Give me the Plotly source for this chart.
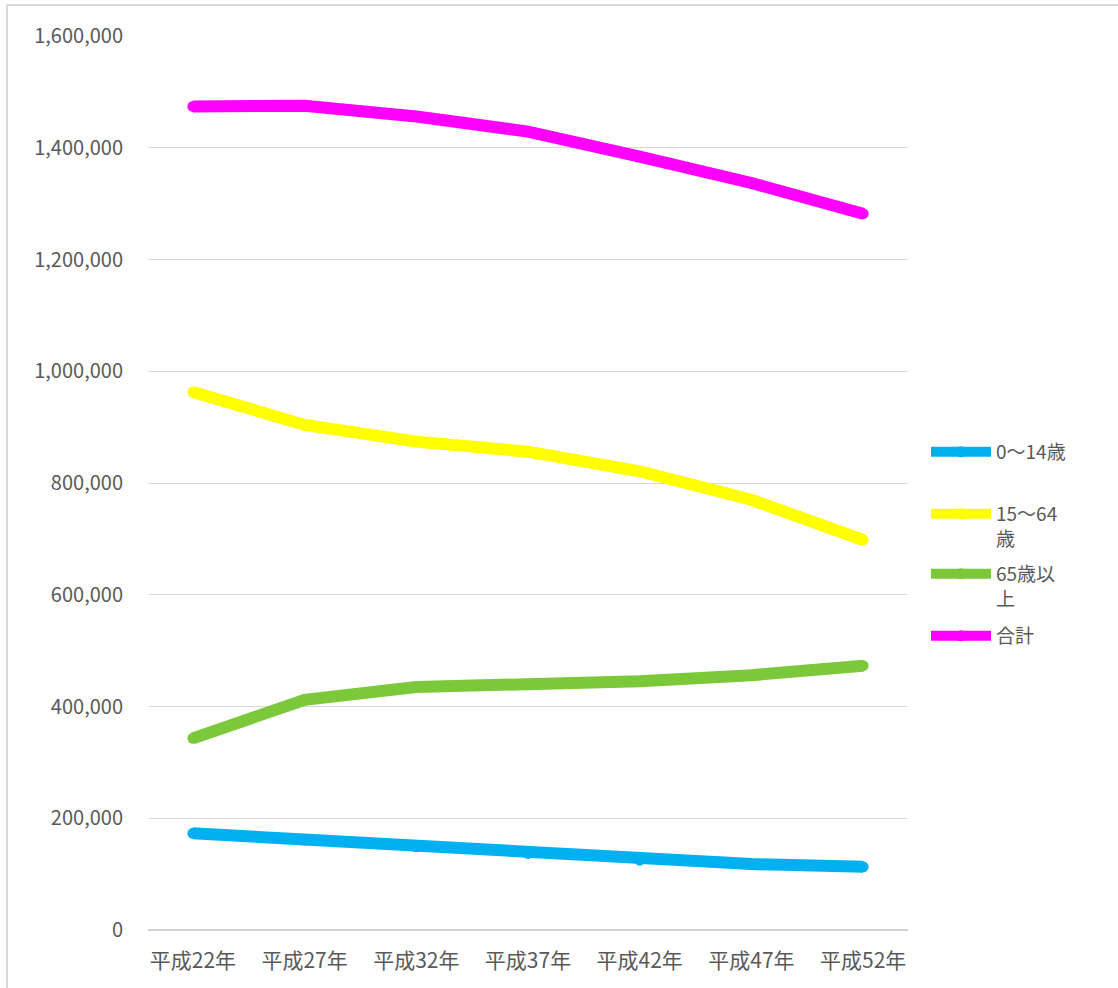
import plotly.graph_objects as go

categories = ["平成22年", "平成27年", "平成32年", "平成37年", "平成42年", "平成47年", "平成52年"]
series_names = ["0～14歳", "15～64<br>歳", "65歳以<br>上", "合計"]
age_0_14 = [173000, 161000, 149000, 137000, 125000, 118000, 113000]
age_15_64 = [963000, 904000, 874000, 856000, 821000, 770000, 698000]
age_65_plus = [343000, 412000, 435000, 439000, 445000, 456000, 473000]
total = [1474000, 1475000, 1456000, 1429000, 1384000, 1337000, 1282000]
y_ticks = [0, 200000, 400000, 600000, 800000, 1000000, 1200000, 1400000, 1600000]

colors = ["#00B0F0", "#FFFF00", "#7BC83B", "#FF00FF"]
values = [age_0_14, age_15_64, age_65_plus, total]
legend_ids = ["legend", "legend2", "legend3", "legend4"]

W, H = 1118, 988
ml, mr, mt, mb = 148, 210, 36, 58
pw, ph = W - ml - mr, H - mt - mb

def py(p):
    return (H - mb - p) / ph

def px(p):
    return (p - ml) / pw

fig = go.Figure()
for name, vals, col, lg in zip(series_names, values, colors, legend_ids):
    fig.add_trace(go.Scatter(
        x=categories, y=vals, name=name, mode="lines+markers",
        line=dict(color=col, width=12),
        marker=dict(color=col, size=11),
        legend=lg,
    ))

font_family = "Noto Sans CJK JP"
legend_tops = [433, 495, 555, 617]
legend_common = dict(
    x=px(926), xanchor="left", yanchor="top",
    font=dict(family=font_family, size=19, color="#595959"),
    valign="top", bgcolor="rgba(0,0,0,0)", itemwidth=60,
)
layout_legends = {}
for lg, top in zip(legend_ids, legend_tops):
    layout_legends[lg] = dict(y=py(top), **legend_common)

fig.update_layout(
    width=W, height=H,
    margin=dict(l=ml, r=mr, t=mt, b=mb),
    paper_bgcolor="white", plot_bgcolor="white",
    font=dict(family=font_family, color="#595959"),
    showlegend=True,
    xaxis=dict(
        type="category", showgrid=False, zeroline=False, showline=False,
        ticks="", tickfont=dict(size=21, color="#595959", family=font_family),
        ticklabelstandoff=16,
    ),
    yaxis=dict(
        range=[0, 1600000], tickvals=y_ticks, tickformat=",d",
        showgrid=True, gridcolor="#D9D9D9", gridwidth=1,
        zeroline=True, zerolinecolor="#D0D0D0", zerolinewidth=2,
        showline=False, ticks="",
        tickfont=dict(size=20, color="#595959", family=font_family),
        ticklabelstandoff=24,
    ),
    shapes=[dict(
        type="rect", xref="paper", yref="paper",
        x0=px(7), x1=px(W + 5), y0=py(H + 5), y1=py(5),
        line=dict(color="#D9D9D9", width=2), fillcolor="rgba(0,0,0,0)", layer="below",
    )],
    **layout_legends,
)

fig.write_html("out.html")
